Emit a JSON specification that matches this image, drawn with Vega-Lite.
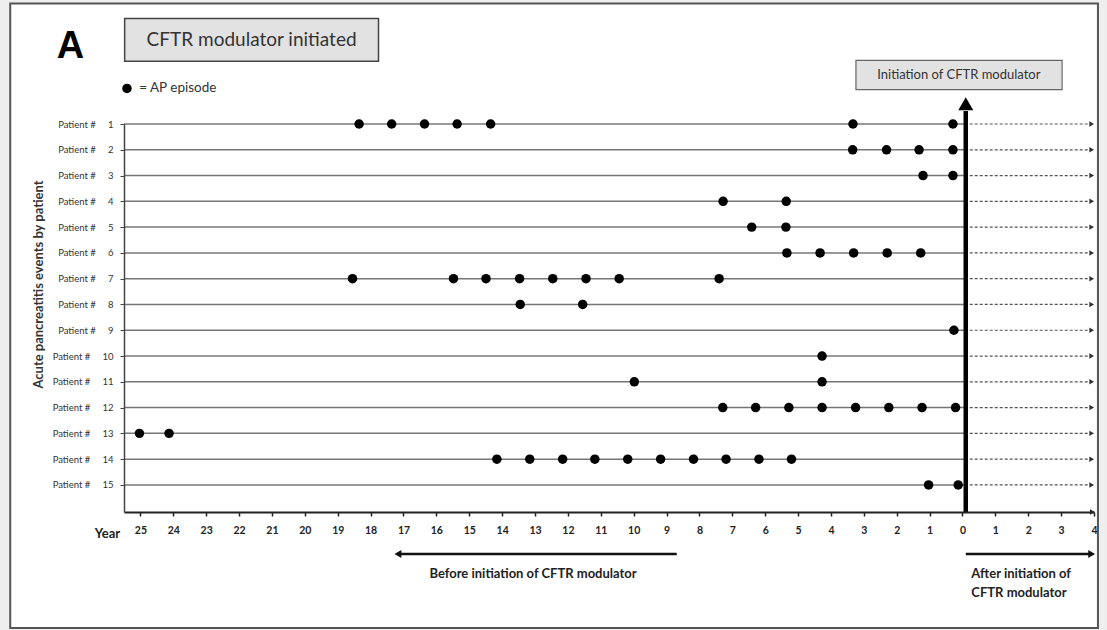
{
  "$schema": "https://vega.github.io/schema/vega-lite/v6.json",
  "width": 970,
  "height": 388,
  "autosize": {"type": "none"},
  "padding": {"left": 124, "top": 124, "right": 13, "bottom": 118},
  "background": "#eeeeee",
  "config": {"font": "Lato", "view": {"stroke": null}},
  "resolve": {"axis": {"x": "independent", "y": "independent"}},
  "datasets": {
    "patients": [
      {"patient": 1}, {"patient": 2}, {"patient": 3}, {"patient": 4}, {"patient": 5},
      {"patient": 6}, {"patient": 7}, {"patient": 8}, {"patient": 9}, {"patient": 10},
      {"patient": 11}, {"patient": 12}, {"patient": 13}, {"patient": 14}, {"patient": 15}
    ],
    "episodes": [
      {"patient": 1, "year": 18.35}, {"patient": 1, "year": 17.36}, {"patient": 1, "year": 16.36}, {"patient": 1, "year": 15.37}, {"patient": 1, "year": 14.35}, {"patient": 1, "year": 3.33}, {"patient": 1, "year": 0.29},
      {"patient": 2, "year": 3.34}, {"patient": 2, "year": 2.31}, {"patient": 2, "year": 1.32}, {"patient": 2, "year": 0.29},
      {"patient": 3, "year": 1.2}, {"patient": 3, "year": 0.29},
      {"patient": 4, "year": 7.28}, {"patient": 4, "year": 5.36},
      {"patient": 5, "year": 6.41}, {"patient": 5, "year": 5.37},
      {"patient": 6, "year": 5.34}, {"patient": 6, "year": 4.33}, {"patient": 6, "year": 3.31}, {"patient": 6, "year": 2.29}, {"patient": 6, "year": 1.27},
      {"patient": 7, "year": 18.55}, {"patient": 7, "year": 15.48}, {"patient": 7, "year": 14.49}, {"patient": 7, "year": 13.47}, {"patient": 7, "year": 12.46}, {"patient": 7, "year": 11.45}, {"patient": 7, "year": 10.44}, {"patient": 7, "year": 7.4},
      {"patient": 8, "year": 13.45}, {"patient": 8, "year": 11.55},
      {"patient": 9, "year": 0.26},
      {"patient": 10, "year": 4.27},
      {"patient": 11, "year": 9.98}, {"patient": 11, "year": 4.27},
      {"patient": 12, "year": 7.29}, {"patient": 12, "year": 6.29}, {"patient": 12, "year": 5.28}, {"patient": 12, "year": 4.27}, {"patient": 12, "year": 3.25}, {"patient": 12, "year": 2.24}, {"patient": 12, "year": 1.23}, {"patient": 12, "year": 0.21},
      {"patient": 13, "year": 25.03}, {"patient": 13, "year": 24.13},
      {"patient": 14, "year": 14.16}, {"patient": 14, "year": 13.16}, {"patient": 14, "year": 12.16}, {"patient": 14, "year": 11.18}, {"patient": 14, "year": 10.18}, {"patient": 14, "year": 9.18}, {"patient": 14, "year": 8.18}, {"patient": 14, "year": 7.19}, {"patient": 14, "year": 6.19}, {"patient": 14, "year": 5.2},
      {"patient": 15, "year": 1.03}, {"patient": 15, "year": 0.13}
    ]
  },
  "layer": [
    {
      "data": {"values": [{}]},
      "mark": {"type": "rect", "fill": "#ffffff", "stroke": "#555555", "strokeWidth": 2},
      "encoding": {
        "x": {"datum": 28.96, "type": "quantitative", "axis": null, "scale": {"domain": [-4, 25.5], "reverse": true, "nice": false, "zero": false}},
        "x2": {"datum": -4.12},
        "y": {"datum": -3.67, "type": "quantitative", "axis": null, "scale": {"domain": [1, 16.05], "reverse": true, "nice": false, "zero": false}},
        "y2": {"datum": 20.55}
      }
    },
    {
      "data": {"name": "patients"},
      "mark": {"type": "rule", "color": "#777777", "strokeWidth": 1.5},
      "encoding": {
        "x": {"datum": 25.5, "type": "quantitative", "axis": null},
        "x2": {"datum": -0.1},
        "y": {"field": "patient", "type": "quantitative", "axis": null}
      }
    },
    {
      "data": {"name": "patients"},
      "mark": {"type": "rule", "color": "#555555", "strokeWidth": 1.2, "strokeDash": [3, 2]},
      "encoding": {
        "x": {"datum": -0.22, "type": "quantitative", "axis": null},
        "x2": {"datum": -3.85},
        "y": {"field": "patient", "type": "quantitative", "axis": null}
      }
    },
    {
      "data": {"name": "patients"},
      "mark": {"type": "point", "shape": "triangle-right", "filled": true, "color": "#333333", "size": 30, "opacity": 1},
      "encoding": {
        "x": {"datum": -3.93, "type": "quantitative", "axis": null},
        "y": {"field": "patient", "type": "quantitative", "axis": null}
      }
    },
    {
      "data": {"name": "episodes"},
      "mark": {"type": "point", "shape": "circle", "filled": true, "color": "#000000", "size": 90, "opacity": 1},
      "encoding": {
        "x": {
          "field": "year", "type": "quantitative",
          "scale": {"domain": [-4, 25.5], "reverse": true, "nice": false, "zero": false},
          "axis": {
            "orient": "bottom",
            "values": [-4, -3, -2, -1, 0, 1, 2, 3, 4, 5, 6, 7, 8, 9, 10, 11, 12, 13, 14, 15, 16, 17, 18, 19, 20, 21, 22, 23, 24, 25],
            "labelExpr": "abs(datum.value)",
            "labelFontWeight": "bold", "labelFontSize": 10.5, "labelColor": "#222222",
            "labelPadding": 9, "labelFlush": false, "labelOverlap": false,
            "tickSize": 4, "tickWidth": 1.5, "tickColor": "#222222",
            "domainWidth": 2, "domainColor": "#222222", "grid": false, "zindex": 1,
            "title": "Year", "titleFontWeight": "bold", "titleFontSize": 13, "titleColor": "#222222",
            "titleX": -17, "titleY": 21, "titleAlign": "center", "titleBaseline": "middle"
          }
        },
        "y": {
          "field": "patient", "type": "quantitative",
          "scale": {"domain": [1, 16.05], "reverse": true, "nice": false, "zero": false},
          "axis": {
            "orient": "left",
            "values": [1, 2, 3, 4, 5, 6, 7, 8, 9, 10, 11, 12, 13, 14, 15],
            "labelExpr": "'Patient #\u00a0\u00a0\u00a0\u00a0\u00a0' + datum.value",
            "labelFontSize": 9.5, "labelColor": "#333333", "labelPadding": 7,
            "tickSize": 4, "tickColor": "#444444", "domainColor": "#444444", "domainWidth": 1.5,
            "grid": false, "zindex": 1,
            "title": "Acute pancreatitis events by patient", "titleFontSize": 13, "titleFontWeight": "bold", "titleColor": "#333333",
            "titleX": -86, "titleY": 160, "titleAlign": "center", "titleBaseline": "middle", "titleAngle": -90
          }
        }
      }
    },
    {
      "data": {"values": [{}]},
      "mark": {"type": "rule", "color": "#000000", "strokeWidth": 4.5},
      "encoding": {
        "x": {"datum": -0.1, "type": "quantitative", "axis": null},
        "y": {"datum": 0.5, "type": "quantitative", "axis": null},
        "y2": {"datum": 16.05}
      }
    },
    {
      "data": {"values": [{}]},
      "mark": {"type": "point", "shape": "triangle-up", "filled": true, "color": "#000000", "size": 225, "opacity": 1},
      "encoding": {
        "x": {"datum": -0.1, "type": "quantitative", "axis": null},
        "y": {"datum": 0.21, "type": "quantitative", "axis": null}
      }
    },
    {
      "data": {"values": [{}]},
      "mark": {"type": "point", "shape": "triangle-right", "filled": true, "color": "#222222", "size": 30, "opacity": 1},
      "encoding": {
        "x": {"datum": -3.95, "type": "quantitative", "axis": null},
        "y": {"datum": 16.05, "type": "quantitative", "axis": null}
      }
    },
    {
      "data": {"values": [{}]},
      "mark": {"type": "rect", "fill": "#e2e2e2", "stroke": "#444444", "strokeWidth": 1.5},
      "encoding": {
        "x": {"datum": 25.48, "type": "quantitative", "axis": null},
        "x2": {"datum": 17.76},
        "y": {"datum": -3.09, "type": "quantitative", "axis": null},
        "y2": {"datum": -1.43}
      }
    },
    {
      "data": {"values": [{}]},
      "mark": {"type": "text", "text": "CFTR modulator initiated", "fontSize": 19, "color": "#333333", "align": "center", "baseline": "middle"},
      "encoding": {
        "x": {"datum": 21.62, "type": "quantitative", "axis": null},
        "y": {"datum": -2.26, "type": "quantitative", "axis": null}
      }
    },
    {
      "data": {"values": [{}]},
      "mark": {"type": "text", "text": "A", "font": "Liberation Sans", "fontSize": 38, "fontWeight": "bold", "color": "#000000", "align": "center", "baseline": "middle"},
      "encoding": {
        "x": {"datum": 27.13, "type": "quantitative", "axis": null},
        "y": {"datum": -1.98, "type": "quantitative", "axis": null}
      }
    },
    {
      "data": {"values": [{}]},
      "mark": {"type": "point", "shape": "circle", "filled": true, "color": "#000000", "size": 90, "opacity": 1},
      "encoding": {
        "x": {"datum": 25.41, "type": "quantitative", "axis": null},
        "y": {"datum": -0.38, "type": "quantitative", "axis": null}
      }
    },
    {
      "data": {"values": [{}]},
      "mark": {"type": "text", "text": "= AP episode", "fontSize": 13.5, "color": "#333333", "align": "left", "baseline": "middle"},
      "encoding": {
        "x": {"datum": 25.04, "type": "quantitative", "axis": null},
        "y": {"datum": -0.38, "type": "quantitative", "axis": null}
      }
    },
    {
      "data": {"values": [{}]},
      "mark": {"type": "rect", "fill": "#e2e2e2", "stroke": "#666666", "strokeWidth": 1.2},
      "encoding": {
        "x": {"datum": 3.24, "type": "quantitative", "axis": null},
        "x2": {"datum": -3.03},
        "y": {"datum": -1.47, "type": "quantitative", "axis": null},
        "y2": {"datum": -0.33}
      }
    },
    {
      "data": {"values": [{}]},
      "mark": {"type": "text", "text": "Initiation of CFTR modulator", "fontSize": 13, "color": "#333333", "align": "center", "baseline": "middle"},
      "encoding": {
        "x": {"datum": 0.11, "type": "quantitative", "axis": null},
        "y": {"datum": -0.9, "type": "quantitative", "axis": null}
      }
    },
    {
      "data": {"values": [{}]},
      "mark": {"type": "rule", "color": "#111111", "strokeWidth": 2.5},
      "encoding": {
        "x": {"datum": 8.69, "type": "quantitative", "axis": null},
        "x2": {"datum": 17.1},
        "y": {"datum": 17.68, "type": "quantitative", "axis": null}
      }
    },
    {
      "data": {"values": [{}]},
      "mark": {"type": "point", "shape": "triangle-left", "filled": true, "color": "#111111", "size": 64, "opacity": 1},
      "encoding": {
        "x": {"datum": 17.17, "type": "quantitative", "axis": null},
        "y": {"datum": 17.68, "type": "quantitative", "axis": null}
      }
    },
    {
      "data": {"values": [{}]},
      "mark": {"type": "rule", "color": "#111111", "strokeWidth": 2.5},
      "encoding": {
        "x": {"datum": -0.1, "type": "quantitative", "axis": null},
        "x2": {"datum": -3.85},
        "y": {"datum": 17.68, "type": "quantitative", "axis": null}
      }
    },
    {
      "data": {"values": [{}]},
      "mark": {"type": "point", "shape": "triangle-right", "filled": true, "color": "#111111", "size": 64, "opacity": 1},
      "encoding": {
        "x": {"datum": -3.93, "type": "quantitative", "axis": null},
        "y": {"datum": 17.68, "type": "quantitative", "axis": null}
      }
    },
    {
      "data": {"values": [{}]},
      "mark": {"type": "text", "text": "Before initiation of CFTR modulator", "fontSize": 13, "fontWeight": "bold", "color": "#222222", "align": "center", "baseline": "middle"},
      "encoding": {
        "x": {"datum": 13.06, "type": "quantitative", "axis": null},
        "y": {"datum": 18.46, "type": "quantitative", "axis": null}
      }
    },
    {
      "data": {"values": [{}]},
      "mark": {"type": "text", "text": "After initiation of", "fontSize": 13, "fontWeight": "bold", "color": "#222222", "align": "left", "baseline": "middle"},
      "encoding": {
        "x": {"datum": -0.27, "type": "quantitative", "axis": null},
        "y": {"datum": 18.46, "type": "quantitative", "axis": null}
      }
    },
    {
      "data": {"values": [{}]},
      "mark": {"type": "text", "text": "CFTR modulator", "fontSize": 13, "fontWeight": "bold", "color": "#222222", "align": "left", "baseline": "middle"},
      "encoding": {
        "x": {"datum": -0.27, "type": "quantitative", "axis": null},
        "y": {"datum": 19.21, "type": "quantitative", "axis": null}
      }
    }
  ]
}
